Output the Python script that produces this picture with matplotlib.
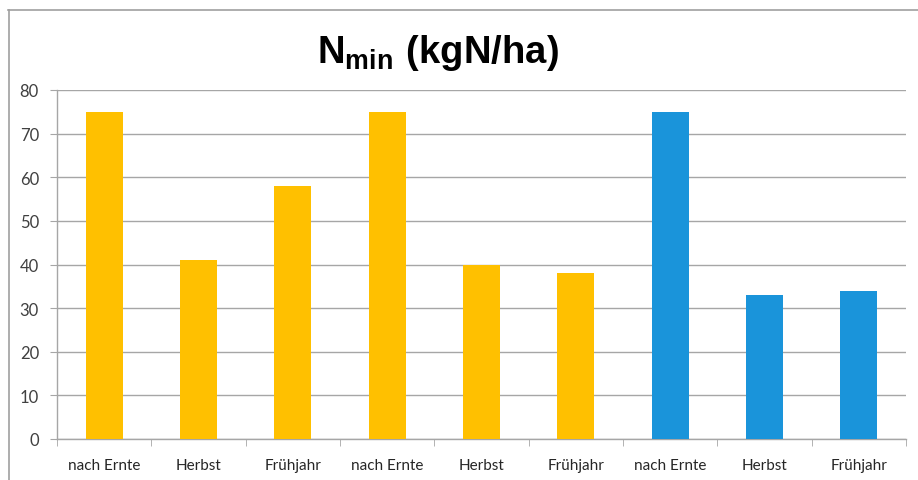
import matplotlib
matplotlib.use("Agg")
import matplotlib.pyplot as plt
from matplotlib.lines import Line2D

categories = ["nach Ernte", "Herbst", "Frühjahr",
              "nach Ernte", "Herbst", "Frühjahr",
              "nach Ernte", "Herbst", "Frühjahr"]
values = [75, 41, 58, 75, 40, 38, 75, 33, 34]
series_colors = ["#FFC000"] * 6 + ["#1A94DA"] * 3
y_ticks = [0, 10, 20, 30, 40, 50, 60, 70, 80]

plt.rcParams['mathtext.fontset'] = 'custom'
plt.rcParams['mathtext.bf'] = 'Liberation Sans:bold'
plt.rcParams['mathtext.rm'] = 'Liberation Sans'

W, H = 918, 481
fig = plt.figure(figsize=(W / 100, H / 100), dpi=100)
fig.patch.set_facecolor("white")

left, right, bottom, top = 57, 906, 440, 91
ax = fig.add_axes([left / W, 1 - bottom / H, (right - left) / W, (bottom - top) / H])

x = list(range(len(categories)))
ax.bar(x, values, width=0.39, color=series_colors, zorder=3)

ax.set_xlim(-0.5, len(categories) - 0.5)
ax.set_ylim(0, 80)
ax.set_yticks(y_ticks)
ax.set_yticklabels([str(v) for v in y_ticks], fontfamily="Lato", fontsize=12, color="#404040")
ax.yaxis.grid(True, color="#A6A6A6", linewidth=1.0, zorder=0)
ax.set_axisbelow(True)

ax.set_xticks(x)
ax.set_xticklabels(categories, fontfamily="Lato", fontsize=11, color="#262626")
ax.tick_params(axis="x", length=0, pad=14)
ax.set_xticks([i + 0.5 for i in range(-1, len(categories))], minor=True)
ax.tick_params(axis="x", which="minor", length=5, color="#A6A6A6")
ax.tick_params(axis="y", length=5, color="#A6A6A6", pad=8)

for s in ["top", "right"]:
    ax.spines[s].set_visible(False)
for s in ["left", "bottom"]:
    ax.spines[s].set_color("#A6A6A6")
    ax.spines[s].set_linewidth(1.0)

fig.text(438 / W, 1 - 53 / H, r"$\mathbf{N}_\mathbf{min}$ $\mathbf{(kgN/ha)}$",
         ha="center", va="center", fontsize=27.5)

# outer frame (top and left edges)
fig.add_artist(Line2D([8 / W, 1], [1 - 10.5 / H, 1 - 10.5 / H], transform=fig.transFigure,
                      color="#A0A0A0", linewidth=1.2))
fig.add_artist(Line2D([8.5 / W, 8.5 / W], [0, 1 - 10.5 / H], transform=fig.transFigure,
                      color="#A0A0A0", linewidth=1.2))

fig.savefig("out.png", dpi=100)
